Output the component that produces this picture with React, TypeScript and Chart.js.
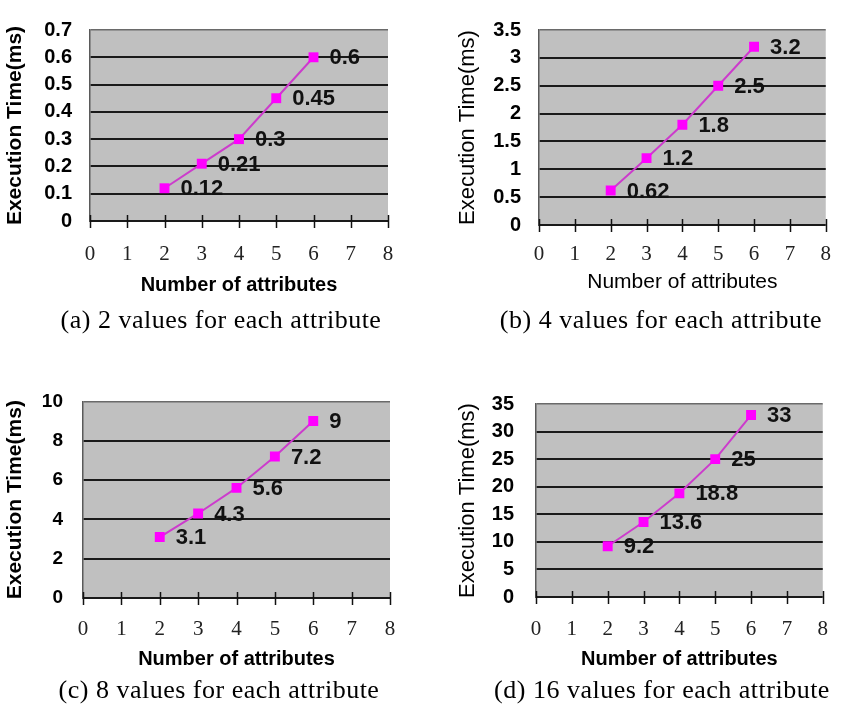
import React, { useEffect, useRef } from 'react';
import { Chart, registerables } from 'chart.js';

Chart.register(...registerables);

// ---------- data ----------
const attributes = [2, 3, 4, 5, 6];
const xTickValues = [0, 1, 2, 3, 4, 5, 6, 7, 8];

const timesA = [0.12, 0.21, 0.3, 0.45, 0.6];
const timesB = [0.62, 1.2, 1.8, 2.5, 3.2];
const timesC = [3.1, 4.3, 5.6, 7.2, 9];
const timesD = [9.2, 13.6, 18.8, 25, 33];

const yTicksA = [0, 0.1, 0.2, 0.3, 0.4, 0.5, 0.6, 0.7];
const yTicksB = [0, 0.5, 1, 1.5, 2, 2.5, 3, 3.5];
const yTicksC = [0, 2, 4, 6, 8, 10];
const yTicksD = [0, 5, 10, 15, 20, 25, 30, 35];

const captionA = '(a) 2 values for each attribute';
const captionB = '(b) 4 values for each attribute';
const captionC = '(c) 8 values for each attribute';
const captionD = '(d) 16 values for each attribute';

const yTitle = 'Execution Time(ms)';
const xTitle = 'Number of attributes';

// ---------- styles ----------
const SANS = "'Liberation Sans', Arial, sans-serif";
const SERIF = "'Liberation Serif', 'Times New Roman', serif";
const CANVAS_W = 424;
const CANVAS_H = 310;

type PanelCfg = {
  values: number[];
  yTicks: number[];
  area: { left: number; right: number; top: number; bottom: number };
  yTickSize: number;
  yTickPad: number;
  yTitleBold: boolean;
  yTitleSize: number;
  yTitlePad: number;
  xTitleBold: boolean;
  xTitleSize: number;
  xTitlePad: number;
  xTickPad: number;
};

const panels: { pos: { left: number; top: number }; cfg: PanelCfg }[] = [
  {
    pos: { left: 0, top: 0 },
    cfg: {
      values: timesA, yTicks: yTicksA,
      area: { left: 90, right: 388, top: 13, bottom: 221 },
      yTickSize: 20, yTickPad: 18,
      yTitleBold: true, yTitleSize: 21, yTitlePad: 3,
      xTitleBold: true, xTitleSize: 20, xTitlePad: 13, xTickPad: 22,
    },
  },
  {
    pos: { left: 424, top: 0 },
    cfg: {
      values: timesB, yTicks: yTicksB,
      area: { left: 115, right: 418, top: 18, bottom: 225 },
      yTickSize: 20, yTickPad: 18,
      yTitleBold: false, yTitleSize: 22, yTitlePad: 31,
      xTitleBold: false, xTitleSize: 21, xTitlePad: 15, xTickPad: 18,
    },
  },
  {
    pos: { left: 0, top: 370 },
    cfg: {
      values: timesC, yTicks: yTicksC,
      area: { left: 83, right: 390, top: 16, bottom: 228 },
      yTickSize: 19, yTickPad: 20,
      yTitleBold: true, yTitleSize: 21, yTitlePad: 3,
      xTitleBold: true, xTitleSize: 20, xTitlePad: 9, xTickPad: 20,
    },
  },
  {
    pos: { left: 424, top: 370 },
    cfg: {
      values: timesD, yTicks: yTicksD,
      area: { left: 112, right: 416, top: 17, bottom: 227 },
      yTickSize: 20, yTickPad: 22,
      yTitleBold: false, yTitleSize: 22, yTitlePad: 31,
      xTitleBold: true, xTitleSize: 20, xTitlePad: 9, xTickPad: 21,
    },
  },
];

const captions = [
  { text: captionA, cx: 221, cy: 320 },
  { text: captionB, cx: 661, cy: 320 },
  { text: captionC, cx: 219, cy: 690 },
  { text: captionD, cx: 662, cy: 690 },
];

const bgPlugin = {
  id: 'plotBg',
  beforeDraw(chart: any) {
    const { ctx, chartArea: a } = chart;
    ctx.save();
    ctx.fillStyle = '#c0c0c0';
    ctx.fillRect(a.left, a.top, a.right - a.left, a.bottom - a.top);
    ctx.restore();
  },
};

const crossTicksPlugin = {
  id: 'crossTicks',
  beforeDatasetsDraw(chart: any) {
    const { ctx, chartArea: a } = chart;
    const xs = chart.scales.x;
    ctx.save();
    ctx.strokeStyle = '#111';
    ctx.lineWidth = 1.5;
    xTickValues.forEach((v) => {
      const px = Math.round(xs.getPixelForValue(v)) + 0.5;
      ctx.beginPath();
      ctx.moveTo(px, a.bottom - 6);
      ctx.lineTo(px, a.bottom + 7);
      ctx.stroke();
    });
    ctx.restore();
  },
};

const valueLabelPlugin = {
  id: 'valueLabels',
  afterDatasetsDraw(chart: any) {
    const { ctx } = chart;
    const ds = chart.data.datasets[0];
    const meta = chart.getDatasetMeta(0);
    ctx.save();
    ctx.font = `bold 22px ${SANS}`;
    ctx.fillStyle = '#111';
    ctx.textAlign = 'left';
    ctx.textBaseline = 'middle';
    meta.data.forEach((pt: any, i: number) => {
      const v = ds.data[i].y;
      ctx.fillText(String(v), pt.x + 16, pt.y + 1);
    });
    ctx.restore();
  },
};

function Panel({ cfg }: { cfg: PanelCfg }) {
  const ref = useRef<HTMLCanvasElement | null>(null);
  useEffect(() => {
    if (!ref.current) return;
    const yMax = cfg.yTicks[cfg.yTicks.length - 1];
    const chart = new Chart(ref.current, {
      type: 'line',
      data: {
        datasets: [
          {
            data: attributes.map((x, i) => ({ x, y: cfg.values[i] })),
            borderColor: '#cc3ccc',
            borderWidth: 2,
            backgroundColor: '#ff00ff',
            pointBackgroundColor: '#ff00ff',
            pointBorderColor: '#ff00ff',
            pointBorderWidth: 0,
            pointStyle: 'rect',
            pointRadius: 7,
            tension: 0,
            fill: false,
          },
        ],
      },
      options: {
        responsive: false,
        maintainAspectRatio: false,
        animation: false,
        devicePixelRatio: 1,
        layout: {
          padding: {
            left: 0,
            top: cfg.area.top,
            right: CANVAS_W - cfg.area.right,
            bottom: 0,
          },
        },
        plugins: {
          legend: { display: false },
          tooltip: { enabled: false },
        },
        scales: {
          x: {
            type: 'linear',
            min: 0,
            max: 8,
            afterBuildTicks: (s: any) => {
              s.ticks = xTickValues.map((v) => ({ value: v }));
            },
            afterFit: (s: any) => {
              s.height = CANVAS_H - cfg.area.bottom;
            },
            grid: { display: false, drawTicks: false },
            border: { display: false },
            ticks: {
              padding: cfg.xTickPad - 1,
              color: '#222',
              font: { family: SERIF, size: 21 },
              maxRotation: 0,
              autoSkip: false,
              callback: (v: any) => String(v),
            },
            title: {
              display: true,
              text: xTitle,
              color: '#000',
              font: { family: SANS, size: cfg.xTitleSize, weight: cfg.xTitleBold ? 'bold' : 'normal' },
              padding: { top: 0, bottom: cfg.xTitlePad },
            },
          },
          y: {
            type: 'linear',
            min: 0,
            max: yMax,
            afterBuildTicks: (s: any) => {
              s.ticks = cfg.yTicks.map((v) => ({ value: v }));
            },
            afterFit: (s: any) => {
              s.width = cfg.area.left;
            },
            grid: {
              drawTicks: false,
              color: (c: any) => (c.tick && c.tick.value === yMax ? '#6a6a6a' : '#1a1a1a'),
              lineWidth: (c: any) => (c.tick && c.tick.value === yMax ? 1.5 : 2),
            },
            border: { display: true, color: '#5a5a5a', width: 1.5 },
            ticks: {
              padding: cfg.yTickPad,
              color: '#000',
              font: { family: SANS, size: cfg.yTickSize, weight: 'bold' },
              autoSkip: false,
              callback: (v: any) => String(v),
            },
            title: {
              display: true,
              text: yTitle,
              color: '#000',
              font: { family: SANS, size: cfg.yTitleSize, weight: cfg.yTitleBold ? 'bold' : 'normal' },
              padding: { top: cfg.yTitlePad, bottom: 0 },
            },
          },
        },
      } as any,
      plugins: [bgPlugin, crossTicksPlugin, valueLabelPlugin],
    });
    return () => chart.destroy();
  }, [cfg]);
  return <canvas ref={ref} width={CANVAS_W} height={CANVAS_H} style={{ display: 'block', width: CANVAS_W, height: CANVAS_H }} />;
}

export default function App() {
  return (
    <div style={{ position: 'fixed', left: 0, top: 0, width: 848, height: 728, background: '#fff', overflow: 'hidden' }}>
      {panels.map((p, i) => (
        <div key={i} style={{ position: 'absolute', left: p.pos.left, top: p.pos.top, width: CANVAS_W, height: CANVAS_H }}>
          <Panel cfg={p.cfg} />
        </div>
      ))}
      {captions.map((c, i) => (
        <div
          key={'c' + i}
          style={{
            position: 'absolute',
            left: c.cx - 210,
            width: 420,
            top: c.cy - 16,
            height: 32,
            lineHeight: '32px',
            textAlign: 'center',
            fontFamily: SERIF,
            fontSize: 26,
            letterSpacing: '0.5px',
            color: '#000',
            whiteSpace: 'nowrap',
          }}
        >
          {c.text}
        </div>
      ))}
    </div>
  );
}
